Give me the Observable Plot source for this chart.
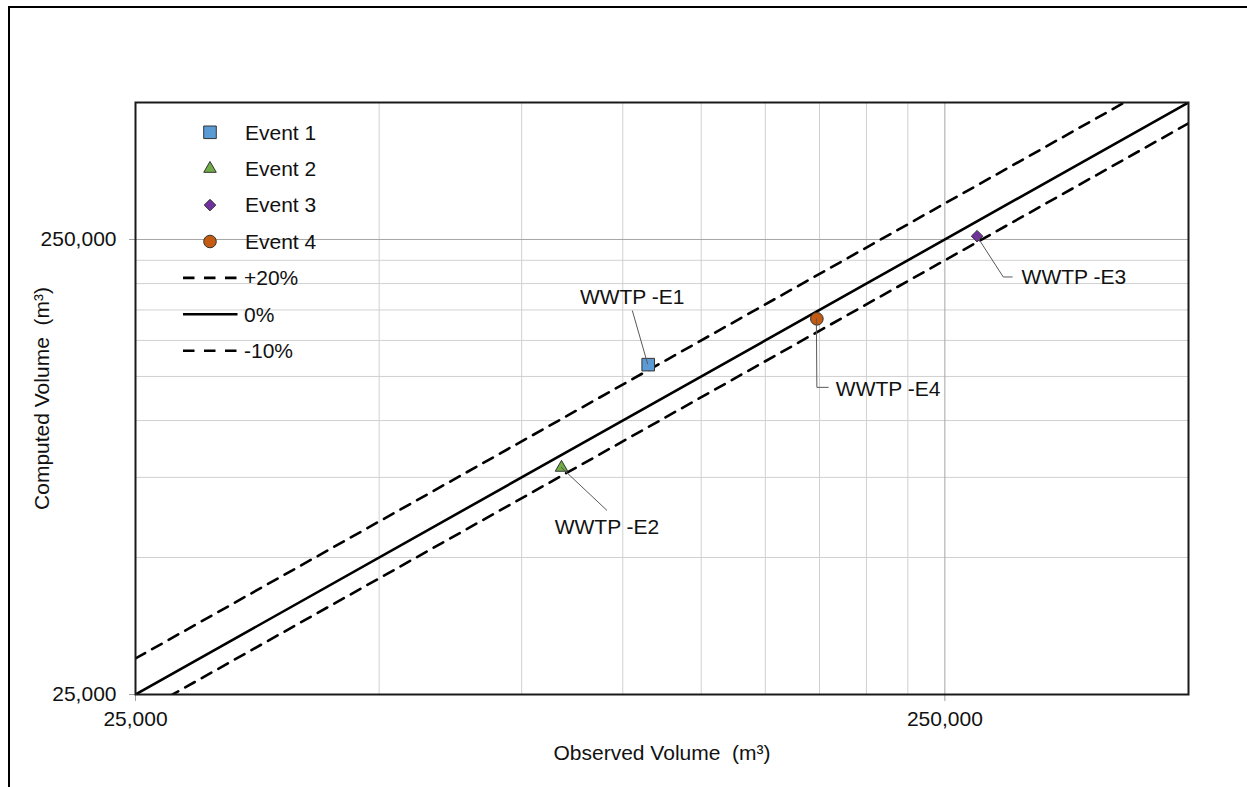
<!DOCTYPE html>
<html>
<head>
<meta charset="utf-8">
<script src="https://cdn.jsdelivr.net/npm/d3@7"></script>
<script src="https://cdn.jsdelivr.net/npm/@observablehq/plot@0.6"></script>
<style>
  body { margin: 0; background: #fff; overflow: hidden; }
  #wrap { position: relative; width: 1247px; height: 787px; }
  #chart svg { display: block; }
  /* chart-area border: only its left and top edges fall inside the page */
  #border { position: absolute; left: 8px; top: 6px; width: 1400px; height: 1000px;
            border: 2px solid #000; pointer-events: none; }
</style>
</head>
<body>
<div id="wrap"><div id="chart"></div><div id="border"></div></div>
<script>
// ---- data -------------------------------------------------------------
const events   = ["Event 1", "Event 2", "Event 3", "Event 4"];
const labels   = ["WWTP -E1", "WWTP -E2", "WWTP -E3", "WWTP -E4"];
const observed = [107500, 84000, 274000, 173700];   // m³
const computed = [132700, 78800, 254200, 167300];   // m³

const bandNames   = ["+20%", "0%", "-10%"];
const bandFactors = [1.2, 1.0, 0.9];                 // computed = factor × observed

const axisDomain = [25000, 500000];
const majorTicks = [25000, 250000];
const minorTicks = [50000, 75000, 100000, 125000, 150000, 175000, 200000, 225000];

// ---- styles & layout ----------------------------------------------------
const FONT = "'Liberation Sans', Arial, Helvetica, sans-serif";
const FS = 21;
const eventColors  = ["#5B9BD5", "#70AD47", "#7030A0", "#C55A11"];
const eventSymbols = ["square", "triangle", "diamond2", "circle"];
const d3Symbols    = [d3.symbolSquare, d3.symbolTriangle, d3.symbolDiamond2, d3.symbolCircle];
const eventRadius  = [7.1, 4.65, 5.2, 6.3];
const markerStroke = "#333";
const bandDash = ["11,8", null, "11,8"];
const legendDash = ["11.5,9.5", null, "11.5,9.5"];

// label placement relative to each marker, in pixels
const labelOffset = [[-16, -67.5, "middle"], [45.5, 59.5, "middle"], [44.5, 41.3, "start"], [19, 70.3, "start"]];
const leaderPath  = [
  [[-15.4, -53.6], [0, 0]],
  [[46, 43.3], [0, 0]],
  [[36, 41.3], [26.7, 41.3], [0, 0]],
  [[12.3, 69], [0.5, 69], [0, 0]]
];

const fmt = d3.format(",");
const idx = d3.range(events.length);

const marks = [
  Plot.gridX(minorTicks, {stroke: "#d0d0d0", strokeOpacity: 1, strokeWidth: 1}),
  Plot.gridY(minorTicks, {stroke: "#d0d0d0", strokeOpacity: 1, strokeWidth: 1}),
  Plot.gridX([majorTicks[1]], {stroke: "#a6a6a6", strokeOpacity: 1, strokeWidth: 1}),
  Plot.gridY([majorTicks[1]], {stroke: "#a6a6a6", strokeOpacity: 1, strokeWidth: 1}),

  // reference lines computed = k × observed
  ...bandFactors.map((k, i) => Plot.line(axisDomain, {
    x: d => d, y: d => d * k, clip: true,
    stroke: "#000", strokeWidth: 2.6,
    strokeDasharray: bandDash[i] ?? undefined
  })),

  // event markers
  ...idx.map(i => Plot.dot([i], {
    x: j => observed[j], y: j => computed[j],
    symbol: eventSymbols[i], r: eventRadius[i],
    fill: eventColors[i], stroke: markerStroke, strokeWidth: 1
  })),

  // point labels
  ...idx.map(i => Plot.text([i], {
    x: j => observed[j], y: j => computed[j], text: j => labels[j],
    dx: labelOffset[i][0], dy: labelOffset[i][1], textAnchor: labelOffset[i][2],
    fontSize: FS, fill: "#111"
  })),

  Plot.axisX(majorTicks, {tickFormat: fmt, tickSize: 7, tickPadding: 10, label: null,
    stroke: "#a0a0a0", fill: "#111", fontSize: FS}),
  Plot.axisY(majorTicks, {tickFormat: fmt, tickSize: 6, tickPadding: 13, label: null,
    stroke: "#a0a0a0", fill: "#111", fontSize: FS}),

  Plot.frame({stroke: "#1a1a1a", strokeWidth: 2}),

  // axis titles
  Plot.text(["Observed Volume \u00a0(m\u00b3)"], {frameAnchor: "bottom", dy: 59,
    textAnchor: "middle", lineAnchor: "middle", fontSize: FS, fill: "#111"}),
  Plot.text(["Computed Volume \u00a0(m\u00b3)"], {frameAnchor: "left", dx: -93, rotate: -90,
    textAnchor: "middle", lineAnchor: "middle", fontSize: FS, fill: "#111"})
];

const chart = Plot.plot({
  width: 1247, height: 787,
  marginLeft: 135, marginRight: 59, marginTop: 102, marginBottom: 93,
  style: {fontFamily: FONT, fontSize: FS + "px", background: "transparent", color: "#111"},
  x: {type: "log", domain: axisDomain},
  y: {type: "log", domain: axisDomain},
  marks
});

// leader lines from each label to its marker
const sx = chart.scale("x"), sy = chart.scale("y");
const svg = d3.select(chart);
const leaders = svg.append("g").attr("fill", "none").attr("stroke", "#595959").attr("stroke-width", 1);
idx.forEach(i => {
  const px = sx.apply(observed[i]), py = sy.apply(computed[i]);
  leaders.append("path").attr("d", d3.line()(leaderPath[i].map(([dx, dy]) => [px + dx, py + dy])));
});

// legend in the upper-left corner of the plot area
const legend = svg.append("g").attr("font-family", FONT).attr("font-size", FS)
  .attr("fill", "#111").attr("text-anchor", "start");
const legendX = 210, legendTextX = 245, legendTop = 132.3, legendStep = 36.4;
events.forEach((name, i) => {
  const y = legendTop + i * legendStep;
  legend.append("path")
    .attr("transform", `translate(${legendX},${y})`)
    .attr("d", d3.symbol(d3Symbols[i], Math.PI * eventRadius[i] ** 2)())
    .attr("fill", eventColors[i]).attr("stroke", markerStroke).attr("stroke-width", 1);
  legend.append("text").attr("x", legendTextX).attr("y", y).attr("dy", "0.35em").text(name);
});
bandNames.forEach((name, i) => {
  const y = legendTop + (events.length + i) * legendStep;
  legend.append("line").attr("x1", 183).attr("x2", 237.5).attr("y1", y).attr("y2", y)
    .attr("stroke", "#000").attr("stroke-width", 2.6)
    .attr("stroke-dasharray", legendDash[i]);
  legend.append("text").attr("x", legendTextX - 1).attr("y", y).attr("dy", "0.35em").text(name);
});

document.getElementById("chart").appendChild(chart);
</script>
</body>
</html>
